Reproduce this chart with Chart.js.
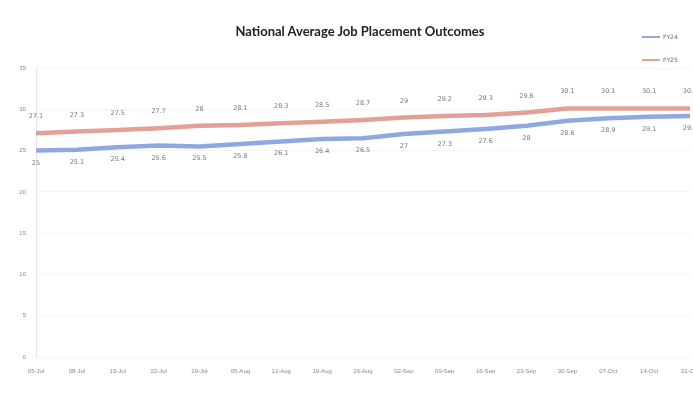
<!DOCTYPE html>
<html>
<head>
<meta charset="utf-8">
<script src="https://cdn.jsdelivr.net/npm/chart.js@4.4.0/dist/chart.umd.min.js"></script>
<style>
  html, body { margin:0; padding:0; background:#fff; overflow:hidden; }
  #wrap { position:relative; width:693px; height:397px; overflow:hidden; }
  #box { position:absolute; left:0; top:0; width:720px; height:397px; }
  #title { position:absolute; left:200px; width:320px; top:23px; text-align:center;
    font:bold 13px Lato, "Open Sans", sans-serif; color:#222; }
  .lg { position:absolute; left:642px; font:6px "DejaVu Sans", sans-serif; color:#666; }
  .lg i { display:inline-block; width:18px; height:2px; vertical-align:middle; margin-right:3px; }
</style>
</head>
<body>
<div id="wrap">
  <div id="box"><canvas id="chart"></canvas></div>
  <div id="title">National Average Job Placement Outcomes</div>
  <div class="lg" style="top:33px"><i style="background:#8fa9e0"></i>FY24</div>
  <div class="lg" style="top:56px"><i style="background:#e3a096"></i>FY25</div>
</div>
<script>
// weekly dates on the x axis
const weeks = ['05-Jul','08-Jul','15-Jul','22-Jul','29-Jul','05-Aug','12-Aug','19-Aug','26-Aug',
  '02-Sep','09-Sep','16-Sep','23-Sep','30-Sep','07-Oct','14-Oct','21-Oct'];
const fy24 = [25, 25.1, 25.4, 25.6, 25.5, 25.8, 26.1, 26.4, 26.5, 27, 27.3, 27.6, 28, 28.6, 28.9, 29.1, 29.2];
const fy25 = [27.1, 27.3, 27.5, 27.7, 28, 28.1, 28.3, 28.5, 28.7, 29, 29.2, 29.3, 29.6, 30.1, 30.1, 30.1, 30.1];
const yTicks = [0, 5, 10, 15, 20, 25, 30, 35];

// small value labels next to each point (above for top series, below for bottom one)
const pointLabels = {
  id: 'pointLabels',
  afterDatasetsDraw(chart){
    const ctx = chart.ctx;
    ctx.save();
    ctx.font = '6.5px "DejaVu Sans", sans-serif';
    ctx.fillStyle = '#777';
    ctx.textAlign = 'center';
    chart.data.datasets.forEach((ds, i) => {
      const meta = chart.getDatasetMeta(i);
      const off = i === 1 ? -15 : 14;
      meta.data.forEach((pt, j) => {
        ctx.fillText(String(ds.data[j]), pt.x, pt.y + off);
      });
    });
    ctx.restore();
  }
};

new Chart(document.getElementById('chart'), {
  type: 'line',
  data: {
    labels: weeks,
    datasets: [
      { label:'FY24', data: fy24, borderColor:'#8fa9e0', borderWidth:4.5, pointRadius:0, tension:0 },
      { label:'FY25', data: fy25, borderColor:'#e3a096', borderWidth:4.5, pointRadius:0, tension:0 }
    ]
  },
  options: {
    responsive: true,
    maintainAspectRatio: false,
    animation: false,
    layout: { padding: { top: 68, right: 30, bottom: 14, left: 0 } },
    plugins: { legend: { display:false }, tooltip: { enabled:false } },
    scales: {
      x: {
        offset: false,
        grid: { display:false },
        border: { display:false },
        ticks: { color:'#888', font:{ size:6 }, maxRotation:0, autoSkip:false, padding:3 },
        afterFit(s){ s.height = 26; }
      },
      y: {
        min: 0, max: 35,
        afterBuildTicks(s){ s.ticks = yTicks.map(v => ({ value:v })); },
        grid: { color:'#ececec', lineWidth:1, tickLength:0 },
        border: { color:'#e4e4e4', dash:[2,2] },
        ticks: { color:'#888', font:{ size:6 }, padding:10 },
        afterFit(s){ s.width = 36; }
      }
    }
  },
  plugins: [pointLabels]
});
</script>
</body>
</html>
